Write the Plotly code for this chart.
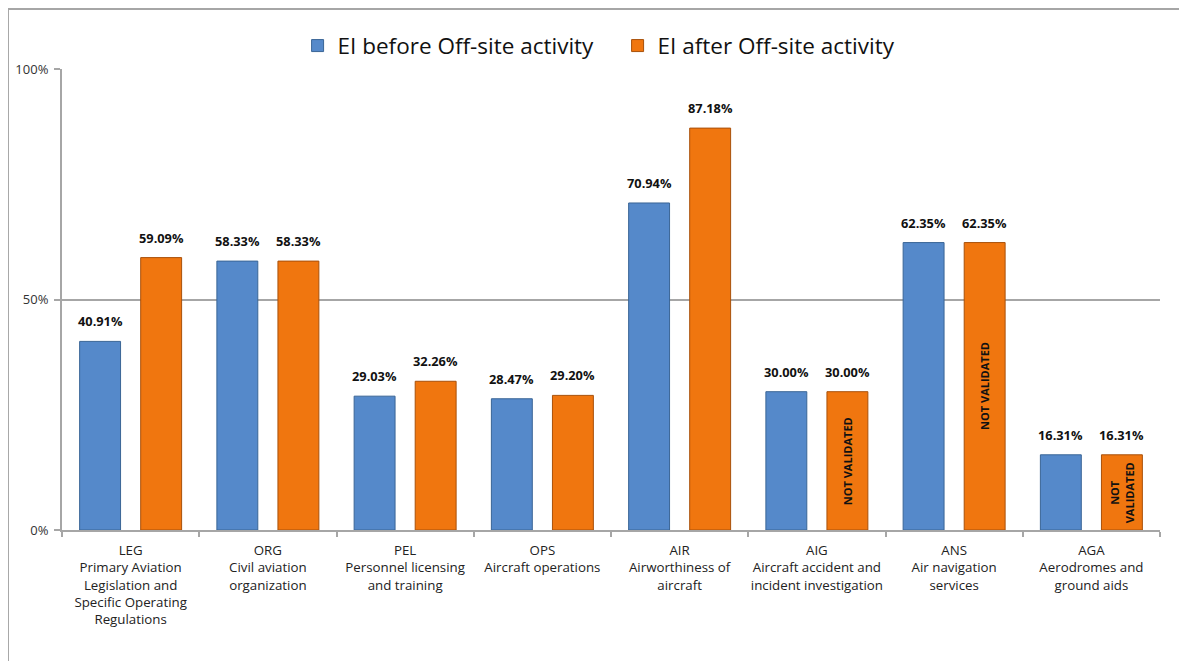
import plotly.graph_objects as go

codes = ['LEG', 'ORG', 'PEL', 'OPS', 'AIR', 'AIG', 'ANS', 'AGA']
descriptions = [
    'Primary Aviation<br>Legislation and<br>Specific Operating<br>Regulations',
    'Civil aviation<br>organization',
    'Personnel licensing<br>and training',
    'Aircraft operations',
    'Airworthiness of<br>aircraft',
    'Aircraft accident and<br>incident investigation',
    'Air navigation<br>services',
    'Aerodromes and<br>ground aids',
]
ei_before = [40.91, 58.33, 29.03, 28.47, 70.94, 30.00, 62.35, 16.31]
ei_after = [59.09, 58.33, 32.26, 29.20, 87.18, 30.00, 62.35, 16.31]
not_validated = ['', '', '', '', '', 'NOT VALIDATED', 'NOT VALIDATED', 'NOT<br>VALIDATED']

BLUE = '#5589CA'
BLUE_EDGE = '#3A6596'
ORANGE = '#F0760F'
ORANGE_EDGE = '#A8500A'
GRID = '#A6A6A6'
FONT = 'Open Sans, sans-serif'

tick_labels = [f'{c}<br>{d}' for c, d in zip(codes, descriptions)]

fig = go.Figure()

fig.add_trace(go.Bar(
    x=tick_labels,
    y=ei_before,
    name='EI before Off-site activity',
    marker=dict(color=BLUE, line=dict(color=BLUE_EDGE, width=1)),
))

fig.add_trace(go.Bar(
    x=tick_labels,
    y=ei_after,
    name='EI after Off-site activity',
    marker=dict(color=ORANGE, line=dict(color=ORANGE_EDGE, width=1)),
))

# value labels above the bars
half = 30.5
for lbl, b, a in zip(tick_labels, ei_before, ei_after):
    for val, shift in ((b, -half), (a, half)):
        fig.add_annotation(
            x=lbl, y=val, xref='x', yref='y',
            text=f'<b>{val:.2f}%</b>',
            showarrow=False, xshift=shift, yshift=20,
            font=dict(family=FONT, size=12.8, color='#111111'),
        )

# vertical "not validated" notes inside the orange bars
for lbl, a, note in zip(tick_labels, ei_after, not_validated):
    if note:
        fig.add_annotation(
            x=lbl, y=a / 2, xref='x', yref='y',
            text=f'<b>{note}</b>',
            textangle=-90, showarrow=False, xshift=half,
            font=dict(family=FONT, size=11, color='#111111'),
        )

# outer frame (top and left edges only)
fig.add_shape(type='line', xref='paper', yref='paper',
              x0=-0.0492, x1=1.05, y0=1.130, y1=1.130,
              line=dict(color=GRID, width=2))
fig.add_shape(type='line', xref='paper', yref='paper',
              x0=-0.0492, x1=-0.0492, y0=1.130, y1=-0.32,
              line=dict(color=GRID, width=2))

fig.update_layout(
    barmode='group',
    bargap=0.11,
    bargroupgap=0.33,
    width=1187,
    height=661,
    margin=dict(l=54, r=35, t=61, b=139),
    paper_bgcolor='white',
    plot_bgcolor='white',
    font=dict(family=FONT, color='#222222'),
    legend=dict(
        orientation='h',
        x=0.506, xanchor='center',
        y=1.05, yanchor='middle',
        font=dict(size=22.5, color='#111111'),
        entrywidth=275,
        traceorder='normal',
    ),
    xaxis=dict(
        automargin=False,
        showline=True,
        linecolor=GRID,
        linewidth=2,
        ticks='outside',
        tickson='boundaries',
        ticklen=5,
        tickcolor=GRID,
        tickwidth=2,
        tickangle=0,
        tickfont=dict(size=13.3, color='#222222'),
        ticklabelstandoff=7,
        showgrid=False,
    ),
    yaxis=dict(
        automargin=False,
        range=[0, 100],
        tickvals=[0, 50, 100],
        ticktext=['0%', '50%', '100%'],
        showline=True,
        linecolor=GRID,
        linewidth=2,
        ticks='outside',
        ticklen=6,
        tickcolor=GRID,
        tickwidth=2,
        showgrid=True,
        gridcolor=GRID,
        gridwidth=2,
        zeroline=False,
        tickfont=dict(size=13, color='#333333'),
        ticklabelstandoff=3,
    ),
)

fig.write_html('out.html')
